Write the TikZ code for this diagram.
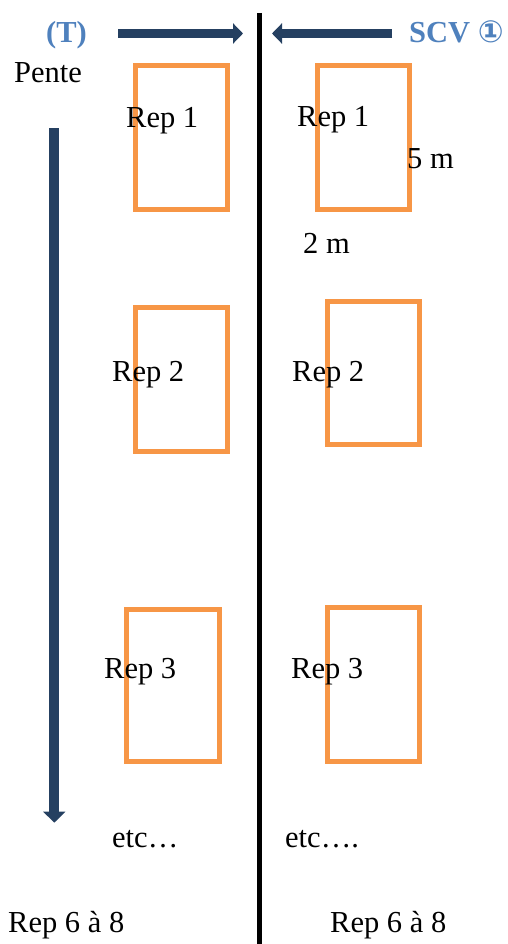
\documentclass[tikz,border=0pt]{standalone}
\usepackage{fontspec}
\setmainfont{Liberation Serif}
\newfontfamily\symbfont{DejaVu Sans}
\usetikzlibrary{arrows.meta}
\definecolor{repOrange}{HTML}{F79646}
\definecolor{arrowNavy}{HTML}{254061}
\definecolor{titleBlue}{HTML}{4F81BD}
\tikzset{
  lbl/.style={anchor=base west, inner sep=0pt, font=\fontsize{30.5}{36}\selectfont},
  ttl/.style={lbl, text=titleBlue, font=\fontsize{30.5}{36}\selectfont\bfseries},
  repbox/.style={draw=repOrange, line width=5pt},
  bigarrow/.style={draw=arrowNavy, line width=8.3pt, -{Triangle[length=10pt,width=20pt]}}
}
\begin{document}
\begin{tikzpicture}[x=1pt,y=-1pt]
   \useasboundingbox (0,0) rectangle (508,944);
   \draw[line width=5pt] (259.5,13) -- (259.5,944);
   \coordinate (tStart) at (118,33.5);
   \coordinate (tEnd) at (243,33.5);
   \coordinate (sStart) at (392,33.5);
   \coordinate (sEnd) at (272,33.5);
   \coordinate (pStart) at (54.3,128.3);
   \coordinate (pEnd) at (54.3,822.7);
   \draw[bigarrow] (tStart) -- (tEnd);
   \draw[bigarrow] (sStart) -- (sEnd);
   \draw[bigarrow, line width=10pt, -{Triangle[length=11pt,width=21.7pt]}] (pStart) -- (pEnd);
    \draw[repbox] (135.5,65.5) rectangle (227.5,209.5);
    \draw[repbox] (317.5,65.5) rectangle (409.5,209.5);
    \draw[repbox] (135,307.5) rectangle (227,451.5);
    \draw[repbox] (327.5,301.5) rectangle (419,444.5);
    \draw[repbox] (126.8,609) rectangle (219,761.5);
    \draw[repbox] (327.5,607.5) rectangle (419,761.5);
   \node[ttl] (titleT) at (46,43) {(T)};
   \node[ttl] (titleS) at (409,43) {SCV {\symbfont\bfseries ①}};
   \node[lbl] (pente) at (14,83) {Pente};
   \node[lbl] (repL1) at (126,128) {Rep 1};
   \node[lbl] (repR1) at (297,127) {Rep 1};
   \node[lbl] (long) at (407,169) {5 m};
   \node[lbl] (large) at (303,253) {2 m};
   \node[lbl] (repL2) at (112,381) {Rep 2};
   \node[lbl] (repR2) at (292,381) {Rep 2};
   \node[lbl] (repL3) at (104,678) {Rep 3};
   \node[lbl] (repR3) at (291,678) {Rep 3};
   \node[lbl] (etcL) at (112,847) {etc…};
   \node[lbl] (etcR) at (285,847) {etc….};
   \node[lbl] (restL) at (8,932) {Rep 6 à 8};
   \node[lbl] (restR) at (330,932) {Rep 6 à 8};
\end{tikzpicture}
\end{document}
